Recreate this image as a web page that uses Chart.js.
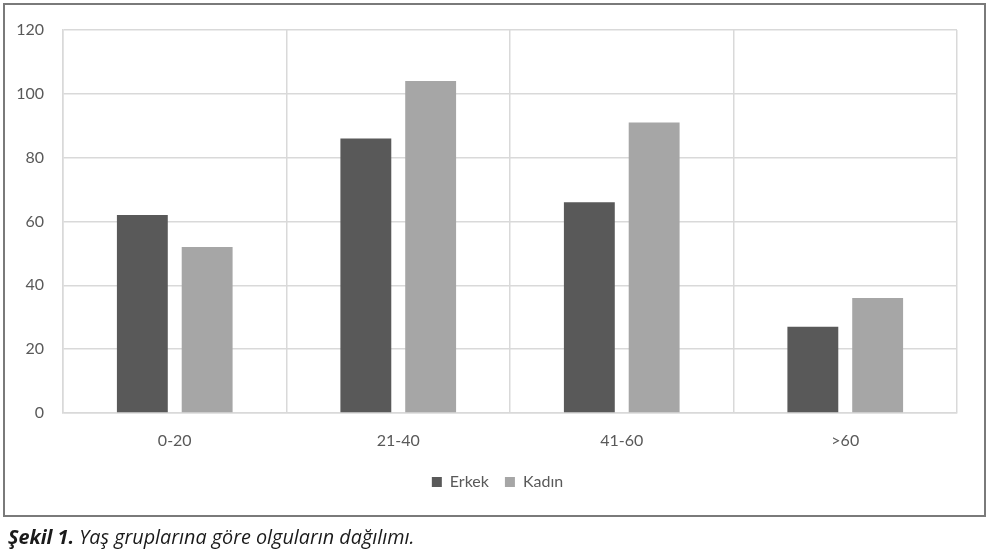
<!DOCTYPE html>
<html>
<head>
<meta charset="utf-8">
<script src="https://cdn.jsdelivr.net/npm/chart.js@4/dist/chart.umd.min.js"></script>
<style>
  html, body { margin: 0; padding: 0; background: #fff; }
  body { width: 989px; height: 552px; position: relative; overflow: hidden; }
  #frame { position: absolute; left: 3px; top: 3px; width: 979px; height: 510px; border: 2px solid #7a7a7a; }
  #wrap { position: absolute; left: 0; top: 0; width: 989px; height: 552px; }
  #caption { position: absolute; left: 8px; top: 523px; font-family: "Open Sans", sans-serif; font-style: italic; font-size: 19.8px; color: #1a1a1a; white-space: nowrap; }
  #caption b { font-weight: 700; }
</style>
</head>
<body>
<div id="frame"></div>
<div id="wrap"><canvas id="c" width="989" height="552"></canvas></div>
<div id="caption"><b>Şekil 1.</b> Yaş gruplarına göre olguların dağılımı.</div>
<script>
const categories = ["0-20", "21-40", "41-60", ">60"];
const erkekValues = [62, 86, 66, 27];
const kadinValues = [52, 104, 91, 36];
const seriesNames = ["Erkek", "Kadın"];
const yTicks = [0, 20, 40, 60, 80, 100, 120];

const gridColor = "#d9d9d9";
const textColor = "#595959";

const legendShift = {
  id: "legendShift",
  afterLayout(chart) {
    if (chart.legend) { chart.legend.left += 19; chart.legend.right += 19; }
  }
};

new Chart(document.getElementById("c"), {
  type: "bar",
  data: {
    labels: categories,
    datasets: [
      { label: seriesNames[0], data: erkekValues, backgroundColor: "#595959", barPercentage: 0.785, categoryPercentage: 0.58 },
      { label: seriesNames[1], data: kadinValues, backgroundColor: "#a6a6a6", barPercentage: 0.785, categoryPercentage: 0.58 }
    ]
  },
  plugins: [legendShift],
  options: {
    responsive: false,
    animation: false,
    layout: { padding: { left: 0, right: 32, top: 30, bottom: 52 } },
    plugins: {
      tooltip: { enabled: false },
      legend: {
        position: "bottom",
        labels: {
          boxWidth: 10, boxHeight: 10, padding: 16,
          color: textColor,
          font: { family: "Lato", size: 16 }
        }
      }
    },
    scales: {
      x: {
        grid: { color: gridColor, drawTicks: false, offset: true, lineWidth: 1.5 },
        border: { color: gridColor, width: 1.5 },
        ticks: { color: textColor, font: { family: "Lato", size: 16 }, padding: 18 },
        afterFit: s => { s.height = 45; }
      },
      y: {
        min: 0, max: 120,
        afterBuildTicks: s => { s.ticks = yTicks.map(v => ({ value: v })); },
        grid: { color: gridColor, drawTicks: false, lineWidth: 1.5 },
        border: { color: gridColor, width: 1.5 },
        ticks: { color: textColor, font: { family: "Lato", size: 16 }, padding: 19 },
        afterFit: s => { s.width = 63; }
      }
    }
  }
});
</script>
</body>
</html>
